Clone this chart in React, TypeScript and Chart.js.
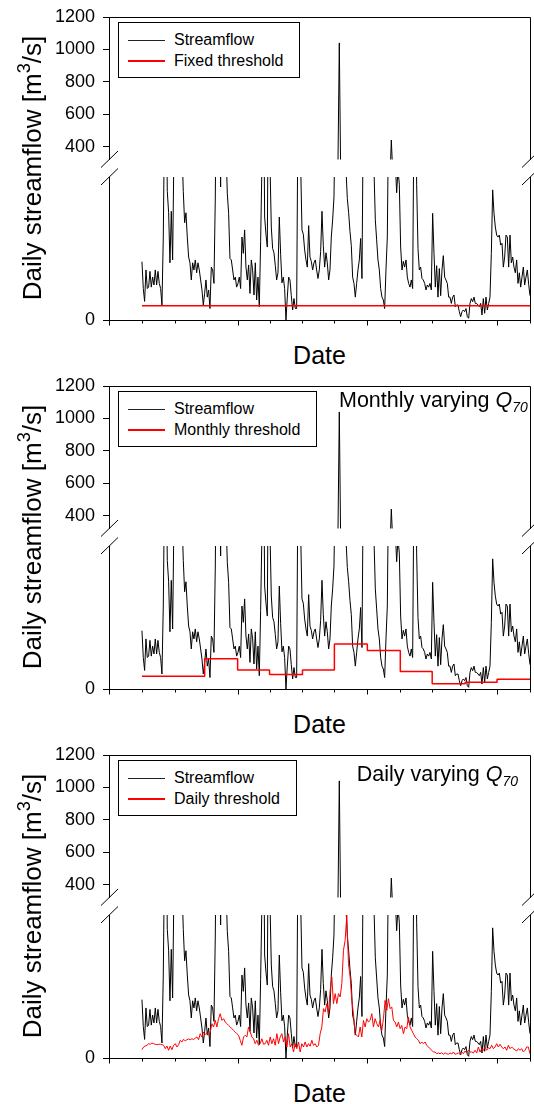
import React, { useEffect, useRef } from "react";
import { Chart, registerables } from "chart.js";

Chart.register(...registerables);

// ---------- data ----------
// x axis: days counted from 1 December; ticks at month starts (Dec .. next Jan)
const MONTH_START_DAYS = [0, 31, 62, 90, 121, 151, 182, 212, 243, 274, 304, 335, 365, 396];
const MAJOR_TICK_DAYS = [0, 121, 243, 365];
const RECORD_START_DAY = 31; // 1 January
const RECORD_END_DAY = 396; // end of December

const UPPER_TICKS = [400, 600, 800, 1000, 1200];
const LOWER_TICKS = [0];

// daily streamflow (evenly sampled through the year), m3/s
const FLOW = [
  40.8, 22, 13, 35, 22, 23, 34, 23, 30, 24.5,
  35, 24.5, 34, 25.6, 22, 10.5, 58, 150, 180, 90,
  75, 40, 76, 42, 120, 200, 250, 200, 180, 150,
  120, 90, 68, 75, 58, 44, 40, 28, 40, 35,
  42, 33, 40, 35, 28, 21, 10.5, 18.6, 28, 16,
  21, 8, 37, 35, 25.6, 86, 200, 250, 150, 93,
  200, 180, 150, 120, 88.6, 74.6, 43, 42, 35, 28,
  30, 23, 25.6, 30, 22, 58, 46.6, 63, 37, 28,
  38.5, 18.6, 42, 35, 17.5, 40, 14, 30, 9.3,
  55, 110, 200, 72, 60, 51, 200, 110, 65, 50,
  47, 38, 28, 33, 72, 46, 26, 30, 22, 0,
  16, 30, 28, 17, 7, 15, 8, 8, 150, 250,
  110, 63, 60, 49, 42, 37, 66, 44, 41, 35,
  40, 42, 35, 29, 35, 48, 76, 52, 37, 47,
  40, 28, 35, 58, 70, 86, 150, 200, 300, 1040,
  250, 180, 150, 120, 105, 85, 75, 62, 52, 30,
  25.6, 16, 25.6, 35, 42, 57, 29, 150, 200, 180,
  150, 160, 180, 150, 120, 105, 70, 56, 42, 35,
  22, 16, 14, 8, 35, 58, 150,
  200, 440, 250, 150, 110, 89, 105, 95, 51, 35,
  41, 37, 42, 30, 25.6, 23, 28, 22, 150, 200,
  95, 50, 35, 37, 29, 28, 25.6, 21, 24.5, 23,
  25.6, 21, 74.6, 46.6, 23, 38, 16, 36, 17, 35,
  45, 30, 28, 25.6, 16, 16, 11.6, 16, 17.5, 9.3,
  10.5, 10.5, 5.8, 2.3, 5.8, 7, 5.8, 8, 2.3, 1.2,
  11.6, 15, 12.8, 16, 11.6, 11.6, 10.5, 9.3, 11.6, 3.5,
  15, 4.7, 16, 7, 11.6, 16, 46.6, 91, 74.6, 65,
  59.4, 58, 59.4, 52.4, 53.6, 37, 44, 59.4, 58, 37,
  59.4, 40, 44, 37, 33, 42, 25.6, 33, 23, 30,
  37, 24.5, 30, 35, 25, 17,
];

const FIXED_THRESHOLD = 10;

// Jan .. Dec monthly Q70
const MONTHLY_THRESHOLD = [9.0, 9.0, 21.1, 13.2, 10.1, 13.2, 31.4, 26.9, 12.2, 3.6, 4.8, 6.9];

// daily Q70 (evenly sampled through the year)
const DAILY_THRESHOLD = [
  5.8, 7.7, 8.4, 8.9, 10.0, 9.6, 10.5, 10.0, 9.6, 9.3,
  9.6, 9.6, 9.3, 8.9, 6.5, 8.4, 5.4, 8.4, 5.8, 8.9,
  10.0, 7.7, 9.3, 12.4, 11.2, 13.1, 11.9, 12.8, 13.3, 12.8,
  13.5, 12.8, 14.0, 14.7, 12.8, 17.0, 14.7, 18.2, 16.6, 17.5,
  15.9, 18.2, 24.0, 21.7, 26.3, 21.7, 27.5, 31.0, 26.3, 27.5,
  25.2, 24.0, 22.8, 21.7, 20.5, 19.3, 18.2, 17.0, 15.9, 12.4,
  8.9, 14.7, 15.9, 14.7, 21.7, 18.2, 14.7, 13.5, 10.0, 12.4,
  8.9, 10.0, 13.5, 9.6, 10.0, 12.4, 8.9, 14.7, 10.0, 13.5,
  8.9, 17.0, 10.0, 14.7, 17.0, 11.2, 14.7, 7.7, 17.0,
  7.7, 10.0, 4.2, 10.0, 6.5, 11.2, 4.2, 10.0, 7.7, 11.2,
  7.7, 10.0, 8.2, 12.4, 8.9, 10.0, 7.7, 8.9, 17.0, 21.7,
  34.5, 32.2, 38.0, 31.0, 47.3, 56.6, 38.0, 45.0, 38.0, 45.0,
  42.7, 52.0, 75.3, 82.3, 99.8, 66.0, 56.6, 40.3, 31.0, 17.0,
  15.9, 14.7, 21.7, 14.7, 26.3, 21.7, 27.5, 25.2, 26.3, 31.0,
  21.7, 27.5, 24.0, 21.7, 26.3, 19.3, 27.5, 40.3, 33.3, 41.5,
  34.5, 35.7, 26.3, 25.2, 21.7, 25.2, 20.5, 22.8, 17.0, 21.7,
  20.5, 28.7, 21.7, 19.3, 17.0, 14.7, 13.5, 12.4, 10.0, 11.2,
  10.0, 11.2, 8.9, 7.7, 6.5, 5.4, 4.2, 4.2, 3.0, 3.5,
  3.0, 3.7, 2.6, 3.7, 3.0, 2.6, 3.5, 2.8, 4.2, 2.6,
  3.0, 3.5, 2.6, 4.2, 3.0, 4.9, 3.5, 5.4, 4.2, 4.2,
  3.5, 5.4, 3.5, 7.7, 4.2, 6.5, 5.4, 7.7, 5.4, 7.2,
  6.5, 8.9, 6.5, 7.7, 10.0, 7.7, 9.6, 7.7, 6.5, 7.7,
  5.4, 8.9, 6.5, 7.7, 6.5, 5.8, 4.9, 6.5, 5.4, 6.5,
  4.2, 5.4, 7.7, 7.7, 3.0,
];

// ---------- helpers ----------
const FONT = "Arial, 'Liberation Sans', sans-serif";
const PANEL_TOPS = [0, 369, 738];

function evenSeries(values: number[]) {
  const span = RECORD_END_DAY - RECORD_START_DAY;
  return values.map((v, i) => ({ x: RECORD_START_DAY + (i * span) / (values.length - 1), y: v }));
}

const flowPoints = evenSeries(FLOW);
const dailyPoints = evenSeries(DAILY_THRESHOLD);
const fixedPoints = [
  { x: RECORD_START_DAY, y: FIXED_THRESHOLD },
  { x: RECORD_END_DAY, y: FIXED_THRESHOLD },
];
const monthlyPoints = [
  ...MONTHLY_THRESHOLD.map((v, i) => ({ x: MONTH_START_DAYS[i + 1], y: v })),
  { x: RECORD_END_DAY, y: MONTHLY_THRESHOLD[MONTHLY_THRESHOLD.length - 1] },
];

type Kind = "fixed" | "monthly" | "daily";

function thresholdDataset(kind: Kind) {
  if (kind === "fixed")
    return { data: fixedPoints, borderColor: "#ff0000", borderWidth: 1.5 };
  if (kind === "monthly")
    return { data: monthlyPoints, borderColor: "#ff0000", borderWidth: 1.5, stepped: "before" as const };
  return { data: dailyPoints, borderColor: "#ff0000", borderWidth: 1 };
}

function framePlugin(section: "upper" | "lower") {
  return {
    id: "frame_" + section,
    afterDraw(chart: any) {
      const { ctx, chartArea } = chart;
      const { left, right, top, bottom } = chartArea;
      const xs = chart.scales.x;
      const L = Math.round(left) + 0.5;
      const R = Math.round(right) + 0.5;
      const T = Math.round(top) + 0.5;
      const B = Math.round(bottom) + 0.5;
      ctx.save();
      ctx.strokeStyle = "#000";
      ctx.lineWidth = 1;
      ctx.beginPath();
      if (section === "upper") {
        ctx.moveTo(L, T);
        ctx.lineTo(R, T);
        ctx.moveTo(R, T);
        ctx.lineTo(R, Math.round(bottom));
      } else {
        ctx.moveTo(R, Math.round(top));
        ctx.lineTo(R, B);
        ctx.moveTo(L - 0.5, B);
        ctx.lineTo(R + 0.5, B);
        for (const d of MONTH_START_DAYS) {
          const px = Math.round(xs.getPixelForValue(d)) + 0.5;
          const len = MAJOR_TICK_DAYS.includes(d) ? 5 : 3;
          ctx.moveTo(px, B);
          ctx.lineTo(px, B + len);
        }
        // axis break marks on both sides
        for (const X of [left, right]) {
          ctx.moveTo(X - 8, top + 8);
          ctx.lineTo(X + 9, top - 8.5);
          ctx.moveTo(X - 8, top - 9.5);
          ctx.lineTo(X + 9, top - 26);
        }
      }
      ctx.stroke();
      ctx.restore();
    },
  };
}

function SectionChart({ kind, section, top, height }: { kind: Kind; section: "upper" | "lower"; top: number; height: number }) {
  const ref = useRef<HTMLCanvasElement>(null);
  useEffect(() => {
    const upper = section === "upper";
    const ticks = upper ? UPPER_TICKS : LOWER_TICKS;
    const common = { pointRadius: 0, fill: false, tension: 0, borderJoinStyle: "bevel" as const };
    const chart = new Chart(ref.current as HTMLCanvasElement, {
      type: "line",
      data: {
        datasets: [
          { ...common, ...thresholdDataset(kind) } as any,
          { ...common, data: flowPoints, borderColor: "#000", borderWidth: 1 },
        ],
      },
      options: {
        animation: false,
        responsive: false,
        maintainAspectRatio: false,
        events: [],
        layout: {
          padding: upper
            ? { left: 0, right: 4, top: 17, bottom: 5.5 }
            : { left: 0, right: 4, top: 27, bottom: 10 },
        },
        plugins: { legend: { display: false }, tooltip: { enabled: false } },
        scales: {
          x: { type: "linear", min: 0, max: MONTH_START_DAYS[MONTH_START_DAYS.length - 1], display: false },
          y: {
            type: "linear",
            min: upper ? 320 : 0,
            max: upper ? 1200 : 100,
            afterBuildTicks: (s: any) => {
              s.ticks = ticks.map((v) => ({ value: v }));
            },
            afterFit: (s: any) => {
              s.width = 109;
              s.paddingTop = 0;
              s.paddingBottom = 0;
            },
            ticks: {
              font: { family: FONT, size: 18 },
              color: "#000",
              padding: 8,
              callback: (v: any) => String(v),
            },
            grid: { drawOnChartArea: false, drawTicks: true, tickLength: 6, color: "#000", lineWidth: 1 },
            border: { display: true, color: "#000", width: 1 },
          },
        },
      },
      plugins: [framePlugin(section)],
    });
    return () => chart.destroy();
  }, [kind, section]);
  return (
    <canvas
      ref={ref}
      width={534}
      height={height}
      style={{ position: "absolute", left: 0, top, width: 534, height, display: "block" }}
    />
  );
}

function Legend({ label }: { label: string }) {
  const row = (color: string, thick: number, text: string) => (
    <div style={{ display: "flex", alignItems: "center", height: 20.5 }}>
      <div style={{ width: 37, height: thick, background: color, marginRight: 9 }} />
      <span>{text}</span>
    </div>
  );
  return (
    <div
      style={{
        position: "absolute",
        left: 118,
        top: 22,
        height: 56,
        boxSizing: "border-box",
        border: "1px solid #000",
        padding: "7px 16px 0 9px",
        font: `16px ${FONT}`,
        color: "#000",
        background: "#fff",
        whiteSpace: "nowrap",
      }}
    >
      {row("#222", 1, "Streamflow")}
      {row("#ff0000", 1.5, label)}
    </div>
  );
}

function Panel({ kind, index }: { kind: Kind; index: number }) {
  const top = PANEL_TOPS[index];
  const legendLabel = kind === "fixed" ? "Fixed threshold" : kind === "monthly" ? "Monthly threshold" : "Daily threshold";
  return (
    <div style={{ position: "absolute", left: 0, top, width: 534, height: 369 }}>
      <SectionChart kind={kind} section="upper" top={0} height={165} />
      <SectionChart kind={kind} section="lower" top={150} height={180} />
      <Legend label={legendLabel} />
      <div
        style={{
          position: "absolute",
          left: 30 - 160,
          top: 167.5 - 13,
          width: 320,
          height: 26,
          lineHeight: "26px",
          textAlign: "center",
          transform: "rotate(-90deg)",
          font: `26px ${FONT}`,
          color: "#000",
          whiteSpace: "nowrap",
        }}
      >
        Daily streamflow [m
        <sup style={{ fontSize: "0.7em", lineHeight: 0, verticalAlign: "0.6em" }}>3</sup>
        /s]
      </div>
      <div
        style={{
          position: "absolute",
          left: 219.5,
          top: 343,
          width: 200,
          textAlign: "center",
          font: `25px ${FONT}`,
          lineHeight: "25px",
          color: "#000",
        }}
      >
        Date
      </div>
      {kind === "monthly" && (
        <div style={{ position: "absolute", left: 339, top: 21, font: `21.5px ${FONT}`, lineHeight: "21.5px", whiteSpace: "nowrap", color: "#000" }}>
          Monthly varying <i>Q</i>
          <sub style={{ fontSize: "0.65em", lineHeight: 0, verticalAlign: "-0.35em", fontStyle: "italic" }}>70</sub>
        </div>
      )}
      {kind === "daily" && (
        <div style={{ position: "absolute", right: 16, top: 26, font: `21.5px ${FONT}`, lineHeight: "21.5px", whiteSpace: "nowrap", color: "#000" }}>
          Daily varying <i>Q</i>
          <sub style={{ fontSize: "0.65em", lineHeight: 0, verticalAlign: "-0.35em", fontStyle: "italic" }}>70</sub>
        </div>
      )}
    </div>
  );
}

export default function App() {
  return (
    <div style={{ position: "absolute", left: 0, top: 0, width: 534, height: 1104, background: "#fff", overflow: "hidden" }}>
      <Panel kind="fixed" index={0} />
      <Panel kind="monthly" index={1} />
      <Panel kind="daily" index={2} />
    </div>
  );
}
